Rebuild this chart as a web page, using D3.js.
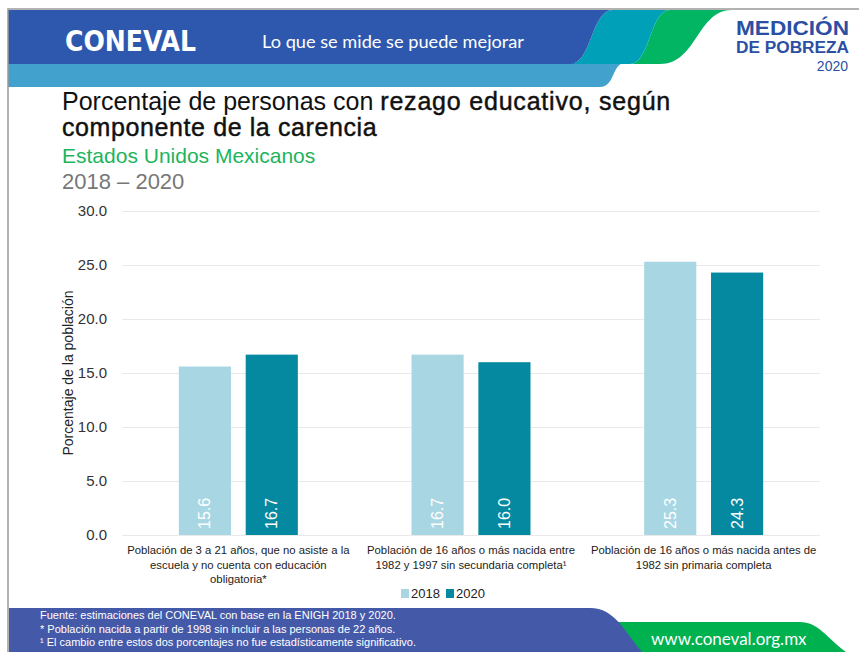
<html lang="es">
<head>
<meta charset="UTF-8">
<title>Rezago educativo</title>
<script src="https://d3js.org/d3.v7.min.js"></script>
<style>
  body { margin: 0; background: #fff; }
  svg { display: block; font-family: "Liberation Sans", Arial, sans-serif; }
</style>
</head>
<body>
<svg width="859" height="652"></svg>
<script>
// data
var categories = [
  ["Población de 3 a 21 años, que no asiste a la", "escuela y no cuenta con educación", "obligatoria*"],
  ["Población de 16 años o más nacida entre", "1982 y 1997 sin secundaria completa¹"],
  ["Población de 16 años o más nacida antes de", "1982 sin primaria completa"]
];
var years = ["2018", "2020"];
var values2018 = [15.6, 16.7, 25.3];
var values2020 = [16.7, 16.0, 24.3];
var yTicks = [0, 5, 10, 15, 20, 25, 30];
var colors = ["#a8d7e3", "#0589a1"];

var svg = d3.select("svg");

// ---- header
svg.append("path").attr("d", "M8,63 H625 C612,63 615,87 600,87 H8 Z").attr("fill", "#43a2cd");
svg.append("path").attr("d", "M670,10 H732 C697,10 697,64 660,64 H630 C650,64 650,10 670,10 Z").attr("fill", "#02b563");
svg.append("path").attr("d", "M613,10 H670 C650,10 650,64 630,64 H570 C592,64 591,10 613,10 Z").attr("fill", "#00a0b8");
svg.append("path").attr("d", "M8,10 H613 C591,10 592,64 570,64 H8 Z").attr("fill", "#2d58ae");
svg.append("path").attr("d", "M8,652 V9 H859").attr("fill", "none").attr("stroke", "#999").attr("stroke-width", 1.5);

svg.append("text").attr("x", 65).attr("y", 51).attr("textLength", 131).attr("lengthAdjust", "spacingAndGlyphs")
  .attr("fill", "#fff").style("font-family", "'DejaVu Sans Condensed', 'DejaVu Sans'").style("font-weight", "bold")
  .style("font-size", "29px").text("CONEVAL");
svg.append("text").attr("x", 262).attr("y", 48).attr("fill", "#fff").style("font-size", "17px")
  .attr("textLength", 262).attr("lengthAdjust", "spacingAndGlyphs")
  .style("font-family", "Lato, sans-serif").text("Lo que se mide se puede mejorar");
svg.append("text").attr("x", 736).attr("y", 35).attr("fill", "#2b4fa2")
  .style("font-weight", "bold").style("font-size", "20px").attr("textLength", 113).attr("lengthAdjust", "spacingAndGlyphs").text("MEDICIÓN");
svg.append("text").attr("x", 736).attr("y", 53).attr("fill", "#2b4fa2")
  .style("font-weight", "bold").style("font-size", "16px").attr("textLength", 113).attr("lengthAdjust", "spacingAndGlyphs").text("DE POBREZA");
svg.append("text").attr("x", 848).attr("y", 71).attr("text-anchor", "end").attr("fill", "#2b4fa2")
  .style("font-size", "14px").text("2020");

// ---- titles
var t1 = svg.append("text").attr("x", 62).attr("y", 110).attr("fill", "#111").style("font-size", "25px");
t1.append("tspan").text("Porcentaje de personas con ");
t1.append("tspan").attr("stroke", "#111").attr("stroke-width", 0.45).style("letter-spacing", "0.8px").text("rezago educativo, según");
svg.append("text").attr("x", 62).attr("y", 136).attr("fill", "#111").attr("stroke", "#111").attr("stroke-width", 0.45)
  .style("letter-spacing", "0.6px").style("font-size", "25px").text("componente de la carencia");
svg.append("text").attr("x", 62).attr("y", 163).attr("fill", "#1db45c").style("font-size", "21px").text("Estados Unidos Mexicanos");
svg.append("text").attr("x", 62).attr("y", 189).attr("fill", "#777").style("font-size", "22px").text("2018 – 2020");

// ---- chart
var x0 = d3.scaleBand().domain(d3.range(categories.length)).range([122, 820]);
var x1 = d3.scaleBand().domain(years).range([0, 119]).paddingInner(0.22);
var y = d3.scaleLinear().domain([0, 30]).range([535, 211]);

var g = svg.append("g");
g.append("g").attr("transform", "translate(122,0)")
  .call(d3.axisLeft(y).tickValues(yTicks).tickSize(-698).tickFormat(d3.format(".1f")))
  .call(function (a) {
    a.select(".domain").remove();
    a.selectAll(".tick line").attr("stroke", "#e9e9e9");
    a.selectAll(".tick text").attr("x", -15).attr("fill", "#333").style("font-size", "15px")
      .style("font-family", "'Liberation Sans', Arial, sans-serif");
  });

svg.append("text").attr("transform", "translate(73,373) rotate(-90)").attr("text-anchor", "middle")
  .attr("fill", "#222").style("font-size", "14px").text("Porcentaje de la población");

var rows = categories.map(function (c, i) {
  return [{ year: "2018", v: values2018[i] }, { year: "2020", v: values2020[i] }];
});

var groups = g.selectAll(".grp").data(rows).enter().append("g")
  .attr("transform", function (d, i) { return "translate(" + (x0(i) + x0.bandwidth() / 2 - 59.5) + ",0)"; });

groups.selectAll("rect").data(function (d) { return d; }).enter().append("rect")
  .attr("x", function (d) { return x1(d.year); })
  .attr("y", function (d) { return y(d.v); })
  .attr("width", x1.bandwidth())
  .attr("height", function (d) { return y(0) - y(d.v); })
  .attr("fill", function (d, i) { return colors[i]; });

groups.selectAll(".lbl").data(function (d) { return d; }).enter().append("text")
  .attr("transform", function (d) { return "translate(" + (x1(d.year) + x1.bandwidth() / 2 + 5.5) + "," + (y(0) - 6) + ") rotate(-90)"; })
  .attr("fill", "#fff").style("font-size", "16px")
  .text(function (d) { return d.v.toFixed(1); });

// category labels
categories.forEach(function (lines, i) {
  var t = svg.append("text").attr("text-anchor", "middle").attr("fill", "#222").style("font-size", "11.3px");
  lines.forEach(function (l, k) {
    t.append("tspan").attr("x", x0(i) + x0.bandwidth() / 2).attr("y", 554 + k * 14.5).text(l);
  });
});

// legend
var leg = svg.append("g").attr("transform", "translate(401,588)");
years.forEach(function (yr, i) {
  leg.append("rect").attr("x", i * 45).attr("y", 1).attr("width", 8).attr("height", 9).attr("fill", colors[i]);
  leg.append("text").attr("x", i * 45 + 10).attr("y", 10).attr("fill", "#222").style("font-size", "13px").text(yr);
});

// ---- footer
svg.append("path").attr("d", "M600,622 H800 C818,622 826,637 846,652 H600 Z").attr("fill", "#00b150");
svg.append("path").attr("d", "M9,608 H590 C615,608 625,632 642,652 H9 Z").attr("fill", "#4559a9");
var notes = [
  "Fuente: estimaciones del CONEVAL con base en la ENIGH 2018 y 2020.",
  "* Población nacida a partir de 1998 sin incluir a las personas de 22 años.",
  "¹ El cambio entre estos dos porcentajes no fue estadísticamente significativo."
];
notes.forEach(function (n, i) {
  svg.append("text").attr("x", 40).attr("y", 619 + i * 13.5).attr("fill", "#fff").style("font-size", "11px").text(n);
});
svg.append("text").attr("x", 651).attr("y", 645).attr("fill", "#fff").style("font-size", "17px")
  .style("font-family", "Lato, sans-serif").text("www.coneval.org.mx");
</script>
</body>
</html>
